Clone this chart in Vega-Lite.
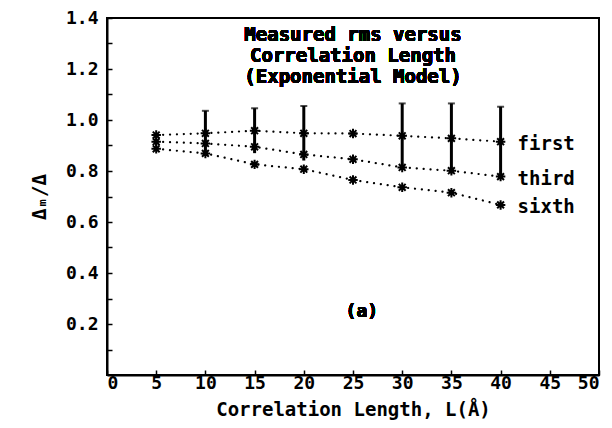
{
  "$schema": "https://vega.github.io/schema/vega-lite/v6.json",
  "autosize": "none",
  "width": 492,
  "height": 357,
  "padding": {"left": 107, "top": 18, "right": 13, "bottom": 53},
  "background": "white",
  "config": {
    "view": {"stroke": "black", "strokeWidth": 2},
    "font": "DejaVu Sans Mono",
    "axis": {
      "grid": false,
      "domainColor": "black",
      "domainWidth": 2,
      "tickColor": "black",
      "tickWidth": 1.5,
      "tickSize": -5,
      "labelFont": "DejaVu Sans Mono",
      "labelFontSize": 18,
      "labelFontWeight": "bold",
      "labelColor": "black",
      "titleFont": "DejaVu Sans Mono",
      "titleFontSize": 19,
      "titleFontWeight": "bold",
      "titleColor": "black"
    }
  },
  "data": {
    "values": [
      {"L": 5, "series": "first", "v": 0.941},
      {"L": 10, "series": "first", "v": 0.948, "lo": 0.86, "hi": 1.036},
      {"L": 15, "series": "first", "v": 0.958, "lo": 0.87, "hi": 1.046},
      {"L": 20, "series": "first", "v": 0.948, "lo": 0.841, "hi": 1.055},
      {"L": 25, "series": "first", "v": 0.947},
      {"L": 30, "series": "first", "v": 0.938, "lo": 0.811, "hi": 1.065},
      {"L": 35, "series": "first", "v": 0.928, "lo": 0.791, "hi": 1.065},
      {"L": 40, "series": "first", "v": 0.915, "lo": 0.778, "hi": 1.052},
      {"L": 5, "series": "third", "v": 0.915},
      {"L": 10, "series": "third", "v": 0.908},
      {"L": 15, "series": "third", "v": 0.895},
      {"L": 20, "series": "third", "v": 0.865},
      {"L": 25, "series": "third", "v": 0.846},
      {"L": 30, "series": "third", "v": 0.814},
      {"L": 35, "series": "third", "v": 0.801},
      {"L": 40, "series": "third", "v": 0.778},
      {"L": 5, "series": "sixth", "v": 0.887},
      {"L": 10, "series": "sixth", "v": 0.869},
      {"L": 15, "series": "sixth", "v": 0.826},
      {"L": 20, "series": "sixth", "v": 0.807},
      {"L": 25, "series": "sixth", "v": 0.765},
      {"L": 30, "series": "sixth", "v": 0.736},
      {"L": 35, "series": "sixth", "v": 0.715},
      {"L": 40, "series": "sixth", "v": 0.667}
    ]
  },
  "encoding": {
    "x": {
      "field": "L", "type": "quantitative",
      "scale": {"domain": [0, 50], "nice": false, "zero": false},
      "axis": {"values": [0,5,10,15,20,25,30,35,40,45,50], "format": "d", "labelPadding": 4, "title": "Correlation Length, L(Å)", "titlePadding": 8}
    },
    "y": {
      "field": "v", "type": "quantitative",
      "scale": {"domain": [0, 1.4], "nice": false, "zero": false},
      "axis": {
        "values": [0.1,0.2,0.3,0.4,0.5,0.6,0.7,0.8,0.9,1.0,1.1,1.2,1.3,1.4],
        "labelExpr": "round(datum.value*10) % 2 == 0 ? format(datum.value, '.1f') : ''",
        "labelPadding": 14,
        "title": "Δₘ/Δ",
        "titlePadding": 16
      }
    }
  },
  "layer": [
    {
      "mark": {"type": "line", "color": "black", "strokeWidth": 2.2, "strokeDash": [0.1, 6.8], "strokeCap": "round"},
      "encoding": {"detail": {"field": "series"}}
    },
    {
      "transform": [{"filter": "isValid(datum.hi)"}],
      "mark": {"type": "rule", "color": "black", "strokeWidth": 3},
      "encoding": {"y": {"field": "lo", "type": "quantitative"}, "y2": {"field": "hi"}}
    },
    {
      "transform": [{"filter": "isValid(datum.hi)"}],
      "mark": {"type": "tick", "color": "black", "thickness": 2, "size": 7, "orient": "horizontal"},
      "encoding": {"y": {"field": "hi", "type": "quantitative"}}
    },
    {
      "mark": {"type": "point", "shape": "M-1,0H1M0,-1V1M-0.72,-0.72L0.72,0.72M-0.72,0.72L0.72,-0.72", "filled": false, "color": "black", "strokeWidth": 2, "size": 90, "opacity": 1}
    },
    {
      "transform": [{"filter": "datum.L == 40"}],
      "mark": {"type": "text", "align": "left", "baseline": "middle", "dx": 17, "dy": 2, "font": "DejaVu Sans Mono", "fontSize": 19, "fontWeight": "bold", "color": "black"},
      "encoding": {"text": {"field": "series"}}
    },
    {
      "mark": {"type": "text", "align": "center", "baseline": "middle", "font": "DejaVu Sans Mono", "fontSize": 19, "fontWeight": "bold", "color": "black", "lineHeight": 21,
        "text": ["Measured rms versus", "Correlation Length", "(Exponential Model)"]},
      "encoding": {"x": {"datum": 25}, "y": {"datum": 1.335}}
    },
    {
      "mark": {"type": "text", "align": "center", "baseline": "middle", "font": "DejaVu Sans Mono", "fontSize": 18, "fontWeight": "bold", "color": "black", "text": "(a)"},
      "encoding": {"x": {"datum": 25.9}, "y": {"datum": 0.247}}
    }
  ]
}
